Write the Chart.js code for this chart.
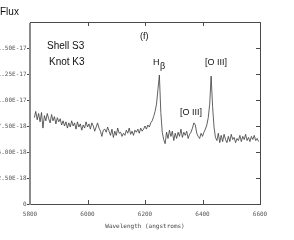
<!DOCTYPE html>
<html>
<head>
<meta charset="utf-8">
<script src="https://cdn.jsdelivr.net/npm/chart.js@4/dist/chart.umd.min.js"></script>
<style>
  body { margin: 0; background: #fff; }
  #wrap { width: 294px; height: 240px; }
</style>
</head>
<body>
<div id="wrap"><canvas id="spec" width="294" height="240"></canvas></div>
<script>
// wavelength grid (angstroms) and flux in units of 1e-18
const wavelength = [
  5815, 5820, 5825, 5830, 5835, 5840, 5845, 5850, 5855, 5860, 5865, 5870, 5875, 5880, 5885, 5890,
  5895, 5900, 5905, 5910, 5915, 5920, 5925, 5930, 5935, 5940, 5945, 5950, 5955, 5960, 5965, 5970,
  5975, 5980, 5985, 5990, 5995, 6000, 6005, 6010, 6015, 6020, 6025, 6030, 6035, 6040, 6045, 6050,
  6055, 6060, 6065, 6070, 6075, 6080, 6085, 6090, 6095, 6100, 6105, 6110, 6115, 6120, 6125, 6130,
  6135, 6140, 6145, 6150, 6155, 6160, 6165, 6170, 6175, 6180, 6185, 6190, 6195, 6200, 6205, 6210,
  6215, 6220, 6225, 6230, 6235, 6240, 6245, 6250, 6255, 6260, 6265, 6270, 6275, 6280, 6285, 6290,
  6295, 6300, 6305, 6310, 6315, 6320, 6325, 6330, 6335, 6340, 6345, 6350, 6355, 6360, 6365, 6370,
  6375, 6380, 6385, 6390, 6395, 6400, 6405, 6410, 6415, 6420, 6425, 6430, 6435, 6440, 6445, 6450,
  6455, 6460, 6465, 6470, 6475, 6480, 6485, 6490, 6495, 6500, 6505, 6510, 6515, 6520, 6525, 6530,
  6535, 6540, 6545, 6550, 6555, 6560, 6565, 6570, 6575, 6580, 6585, 6590, 6595
];
const flux = [
  8.3, 8.9, 8.1, 8.7, 7.9, 8.8, 7.3, 8.5, 8.0, 8.7, 8.2, 7.8, 8.6, 8.0, 8.4, 7.7,
  8.3, 7.9, 8.2, 7.6, 8.0, 7.5, 7.9, 7.3, 7.8, 7.4, 8.0, 7.5, 7.8, 7.2, 7.9, 7.4,
  7.7, 7.1, 7.6, 7.3, 7.9, 7.4, 7.7, 7.2, 7.8, 7.5, 7.0, 7.4, 7.8, 7.3, 7.0, 6.5,
  7.1, 7.2, 6.9, 7.4, 7.0, 6.6, 7.2, 6.4, 7.0, 6.6, 7.3, 6.8, 6.9, 6.5, 6.8, 6.6,
  7.1, 6.8, 7.3, 6.7, 7.0, 6.6, 7.1, 6.9, 7.2, 6.8, 7.3, 7.0, 7.2, 7.5, 7.2, 7.6,
  7.4, 7.8, 8.0, 8.4, 8.9, 9.6, 11.0, 12.4, 8.8, 6.9, 6.2, 5.8, 6.9, 6.3, 7.1, 6.5,
  7.0, 6.1, 6.8, 6.3, 6.9, 6.5, 7.2, 6.4, 6.9, 6.6, 7.0, 6.3, 6.7, 6.9, 7.3, 7.8,
  7.6, 6.8, 6.5, 6.3, 6.8, 6.5, 6.9, 7.2, 7.6, 8.3, 9.6, 12.3, 9.4, 7.4, 6.4, 6.1,
  6.8, 5.9, 6.6, 6.0, 6.7, 6.2, 5.9, 6.5, 6.0, 6.7, 6.2, 6.4, 5.9, 6.3, 6.1, 6.6,
  6.0, 6.5, 6.2, 6.7, 6.1, 6.4, 6.0, 6.5, 6.2, 6.6, 6.1, 6.3, 6.0
];
const xTicks = [5800, 6000, 6200, 6400, 6600];
const yTicks = [0, 2.5, 5, 7.5, 10, 12.5, 15];

const frameColor = '#4a4a4a';

// box, inward ticks and text labels
const frame = {
  id: 'frame',
  afterDraw(chart) {
    const { ctx, chartArea: a, scales: { x, y } } = chart;
    ctx.save();
    ctx.strokeStyle = frameColor;
    ctx.lineWidth = 1;
    ctx.beginPath();
    ctx.moveTo(a.left, a.top + 0.5); ctx.lineTo(a.right, a.top + 0.5);
    ctx.moveTo(a.right + 0.5, a.top); ctx.lineTo(a.right + 0.5, a.bottom);
    ctx.moveTo(a.left, a.bottom + 0.5); ctx.lineTo(a.right + 1, a.bottom + 0.5);
    xTicks.forEach(v => {
      const px = Math.round(x.getPixelForValue(v)) + 0.5;
      ctx.moveTo(px, a.top); ctx.lineTo(px, a.top + 4);
      ctx.moveTo(px, a.bottom + 1); ctx.lineTo(px, a.bottom - 4);
    });
    yTicks.forEach(v => {
      const py = Math.round(y.getPixelForValue(v)) + 0.5;
      ctx.moveTo(a.left - 3, py); ctx.lineTo(a.left, py);
      ctx.moveTo(a.right + 1, py); ctx.lineTo(a.right - 4, py);
    });
    ctx.stroke();
    // thicker gray left axis
    ctx.strokeStyle = '#8a8a8a';
    ctx.lineWidth = 2;
    ctx.beginPath();
    ctx.moveTo(a.left, a.top + 1); ctx.lineTo(a.left, a.bottom + 1);
    ctx.stroke();

    ctx.fillStyle = '#111';
    ctx.textBaseline = 'middle';
    ctx.textAlign = 'left';
    ctx.font = '10px "Liberation Sans", Arial, sans-serif';
    ctx.fillText('Flux', 0, 12);
    ctx.fillText('Shell S3', 47, 46);
    ctx.fillText('Knot K3', 49, 62);
    ctx.font = '9px "Liberation Sans", Arial, sans-serif';
    ctx.fillText('(f)', 140, 37);
    ctx.fillText('H', 153, 63);
    ctx.fillText('β', 160, 67);
    ctx.fillText('[O III]', 205, 63);
    ctx.fillText('[O III]', 180, 113);
    ctx.restore();
  }
};

new Chart(document.getElementById('spec'), {
  type: 'line',
  data: {
    datasets: [{
      data: wavelength.map((w, i) => ({ x: w, y: flux[i] })),
      borderColor: '#3a3a3a',
      borderWidth: 0.8,
      pointRadius: 0,
      tension: 0,
      fill: false
    }]
  },
  options: {
    responsive: false,
    animation: false,
    layout: { padding: { left: 0, right: 34, top: 22, bottom: 0 } },
    plugins: { legend: { display: false }, tooltip: { enabled: false } },
    scales: {
      x: {
        type: 'linear',
        min: 5800,
        max: 6600,
        afterFit(s) { s.height = 36; },
        afterBuildTicks(s) { s.ticks = xTicks.map(v => ({ value: v })); },
        grid: { display: false, drawTicks: false },
        border: { display: false },
        ticks: {
          padding: 7,
          color: '#555',
          font: { family: '"DejaVu Sans Mono", monospace', size: 6 },
          maxRotation: 0,
          callback: v => String(v)
        },
        title: {
          display: true,
          text: 'Wavelength (angstroms)',
          color: '#444',
          font: { family: '"DejaVu Sans Mono", monospace', size: 6 },
          padding: { top: 0, bottom: 10 }
        }
      },
      y: {
        min: 0,
        max: 17.5,
        afterFit(s) { s.width = 30; },
        afterBuildTicks(s) { s.ticks = yTicks.map(v => ({ value: v })); },
        grid: { display: false, drawTicks: false },
        border: { display: false },
        ticks: {
          padding: 3.5,
          color: '#555',
          font: { family: '"DejaVu Sans Mono", monospace', size: 6 },
          callback: v => v === 0 ? '0' : (v * 1e-18).toExponential(2).toUpperCase()
        }
      }
    }
  },
  plugins: [frame]
});
</script>
</body>
</html>
